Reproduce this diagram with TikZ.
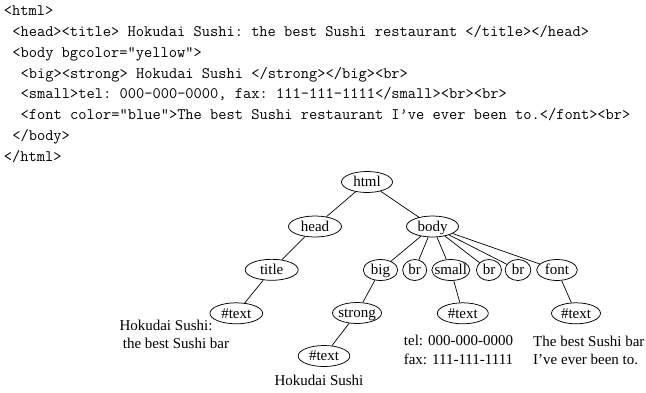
\documentclass[tikz,border=0pt]{standalone}
\usepackage{fontspec}
\setmainfont{Liberation Serif}
\usetikzlibrary{shapes.geometric}

\begin{document}
\begin{tikzpicture}[x=1pt, y=-1pt,
  code/.style={anchor=base west, inner sep=0pt, font=\fontsize{16}{20}\selectfont\ttfamily\frenchspacing},
  tag/.style={draw, ellipse, line width=0.75pt, inner sep=0pt, minimum height=21pt,
              text height=9.6pt, text depth=0pt, font=\fontsize{15}{18}\selectfont},
  note/.style={inner sep=0pt, font=\fontsize{15}{18}\selectfont},
  edge/.style={line width=0.7pt}]
\useasboundingbox (0,0) rectangle (646,392);

% HTML source, one line per node (character cell = 8.4pt)
\node[code] (c1) at (3.7,15.6)   {<html>};
\node[code] (c2) at (12.1,36.4)  {<head><title> Hokudai Sushi: the best Sushi restaurant </title></head>};
\node[code] (c3) at (12.1,57.2)  {<body bgcolor="yellow">};
\node[code] (c4) at (20.5,78.0)  {<big><strong> Hokudai Sushi </strong></big><br>};
\node[code] (c5) at (20.5,98.8)  {<small>tel: 000-000-0000, fax: 111-111-1111</small><br><br>};
\node[code] (c6) at (20.5,119.6) {<font color="blue">The best Sushi restaurant I’ve ever been to.</font><br>};
\node[code] (c7) at (12.1,140.4) {</body>};
\node[code] (c8) at (3.7,161.2)  {</html>};

% document tree
\node[tag, minimum width=51pt]   (html)   at (367,182)     {\makebox[0pt]{html}};
\node[tag, minimum width=53pt]   (head)   at (315,226.5)   {\makebox[0pt]{head}};
\node[tag, minimum width=52pt]   (body)   at (432.5,226.5) {\makebox[0pt]{body}};
\node[tag, minimum width=53pt]   (title)  at (271.7,269.8) {\makebox[0pt]{title}};
\node[tag, minimum width=34.5pt] (big)    at (380.5,270)   {\makebox[0pt]{big}};
\node[tag, minimum width=24pt]   (br1)    at (414.7,270)   {\makebox[0pt]{br}};
\node[tag, minimum width=38pt]   (small)  at (450.8,270)   {\makebox[0pt]{small}};
\node[tag, minimum width=25pt]   (br2)    at (489,270)     {\makebox[0pt]{br}};
\node[tag, minimum width=25.7pt] (br3)    at (518,270)     {\makebox[0pt]{br}};
\node[tag, minimum width=40.7pt] (font)   at (557,270)     {\makebox[0pt]{font}};
\node[tag, minimum width=52.7pt] (txt1)   at (236.3,313.3) {\makebox[0pt]{\#text}};
\node[tag, minimum width=49pt]   (strong) at (357,313)     {\makebox[0pt]{strong}};
\node[tag, minimum width=51pt]   (txt2)   at (462.8,313.3) {\makebox[0pt]{\#text}};
\node[tag, minimum width=49pt]   (txt3)   at (576,313.3)   {\makebox[0pt]{\#text}};
\node[tag, minimum width=51.7pt] (txt4)   at (324,356)     {\makebox[0pt]{\#text}};

\draw[edge] (html) -- (head);
\draw[edge] (html) -- (body);
\draw[edge] (head) -- (title);
\draw[edge] (title) -- (txt1);
\draw[edge] (body) -- (big);
\draw[edge] (body) -- (br1);
\draw[edge] (body) -- (small);
\draw[edge] (body) -- (br2);
\draw[edge] (body) -- (br3);
\draw[edge] (body) -- (font);
\draw[edge] (big) -- (strong);
\draw[edge] (strong) -- (txt4);
\draw[edge] (small) -- (txt2);
\draw[edge] (font) -- (txt3);

% text contents under the #text nodes
\node[note, anchor=base west] (lblA1) at (119.3,330.5) {Hokudai Sushi:};
\node[note, anchor=base west] (lblA2) at (122.7,348.3) {the best Sushi bar};
\node[note, anchor=base]      (lblB1) at (458.5,345.8) {tel: 000-000-0000};
\node[note, anchor=base]      (lblB2) at (458.5,364)   {fax: 111-111-1111};
\node[note, anchor=base west] (lblC1) at (533,346)     {The best Sushi bar};
\node[note, anchor=base west] (lblC2) at (533,364)     {I’ve ever been to.};
\node[note, anchor=base]      (lblD)  at (319,385.5)   {Hokudai Sushi};
\end{tikzpicture}
\end{document}
